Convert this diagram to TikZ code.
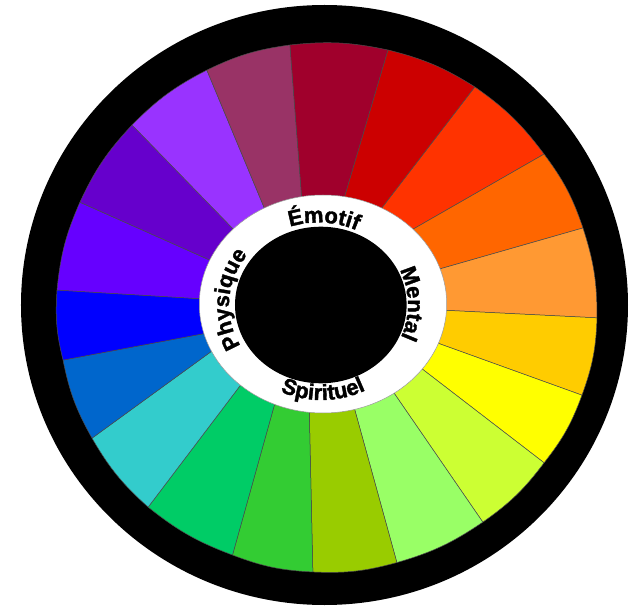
\documentclass[tikz,border=0pt]{standalone}
\usepackage{xcolor}
\usepackage{fontspec}
\newfontfamily\wheelfont{Liberation Sans}[UprightFont=* Bold, FakeBold=1.6]
\usetikzlibrary{calc,decorations.text}

\definecolor{crimson}{HTML}{A0002C}
\definecolor{wred}{HTML}{CC0000}
\definecolor{orangered}{HTML}{FF3300}
\definecolor{worange}{HTML}{FF6600}
\definecolor{lightorange}{HTML}{FF9933}
\definecolor{gold}{HTML}{FFCC00}
\definecolor{wyellow}{HTML}{FFFF00}
\definecolor{yellowgreen}{HTML}{CCFF33}
\definecolor{lightgreen}{HTML}{99FF66}
\definecolor{wolive}{HTML}{99CC00}
\definecolor{wgreen}{HTML}{33CC33}
\definecolor{emerald}{HTML}{00CC66}
\definecolor{wteal}{HTML}{33CCCC}
\definecolor{midblue}{HTML}{0066CC}
\definecolor{wblue}{HTML}{0000FF}
\definecolor{wviolet}{HTML}{6600FF}
\definecolor{darkviolet}{HTML}{6600CC}
\definecolor{wpurple}{HTML}{9933FF}
\definecolor{mauve}{HTML}{993366}

\newcommand\wheeltext{\wheelfont\fontsize{22}{22}\selectfont}

\begin{document}
\begin{tikzpicture}[
    x=1pt,
    y=1pt,
    wedge/.style={
        draw=black!70,
        line width=0.5pt,
        line join=round
    },
    ringtext/.style={
        decorate,
        decoration={
            text along path,
            text align=center,
            text={|\wheeltext|#1}
        }
    }
]
    \useasboundingbox (-324.5,-303) rectangle (305.5,305);
    \coordinate (c) at (0,0);
    \coordinate (tc) at (-6,0);
    \coordinate (sc) at (-3,0);

    % Outer black ring
    \fill[black] (c) ellipse [x radius=303.5, y radius=300];

    % Divider ends: outer angle/radius, inner angle/radius
    \foreach \n/\aout/\rout/\ain/\rin in {
        1/97.6/262.3/101.8/113.5,
        2/76.0/262.8/79.3/113.1,
        3/55.4/264.9/59.2/115.8,
        4/34.5/266.4/40.5/117.4,
        5/16.6/269.7/17.4/118.8,
        6/-2.7/272.8/-2.5/119.6,
        7/-19.3/272.8/-18.6/119.7,
        8/-35.7/270.4/-33.3/118.9,
        9/-53.9/268.7/-51.8/115.2,
        10/-74.3/267.5/-73.9/112.4,
        11/-92.5/267.2/-97.7/112.8,
        12/-110.2/266.4/-116.2/116.1,
        13/-131.1/268.2/-135.9/121.8,
        14/-150.2/267.9/-157.1/127.7,
        15/-168.1/267.2/-166.7/127,
        16/176.8/267.9/177.1/125.8,
        17/157.2/265.3/158.5/128.5,
        18/136.9/263.5/140.2/119.1,
        19/116.6/262.7/121.6/116.9}{
        \coordinate (o\n) at (\aout:\rout);
        \coordinate (i\n) at ($(o\n)!1.12!(\ain:\rin)$);
    }

    % Colour wedges
    \foreach \n/\col in {1/crimson, 2/wred, 3/orangered, 4/worange,
        5/lightorange, 6/gold, 7/wyellow, 8/yellowgreen, 9/lightgreen,
        10/wolive, 11/wgreen, 12/emerald, 13/wteal, 14/midblue,
        15/wblue, 16/wviolet, 17/darkviolet, 18/wpurple, 19/mauve}{
        \pgfmathtruncatemacro\m{mod(\n,19)+1}
        \filldraw[wedge, fill=\col] (o\n) to[bend left=9] (o\m) -- (i\m) -- (i\n) -- cycle;
    }

    % White ring and black centre
    \filldraw[fill=white, draw=black!40, line width=0.5pt]
        (-1.5,1) ellipse [x radius=123.7, y radius=109];
    \fill[black] (-3.7,0) ellipse [x radius=85.8, y radius=78.3];

    % Labels round the ring
    \path[ringtext=Émotif] ([shift={(130:89.5 and 82.5)}]tc)
        arc [start angle=130, end angle=43, x radius=89.5, y radius=82.5];
    \path[ringtext=Mental] ([shift={(45:89.5 and 82.5)}]tc)
        arc [start angle=45, end angle=-43, x radius=89.5, y radius=82.5];
    \path[ringtext=Physique] ([shift={(220:89.5 and 82.5)}]tc)
        arc [start angle=220, end angle=132, x radius=89.5, y radius=82.5];
    \path[ringtext=Spirituel] ([shift={(225:100 and 95)}]sc)
        arc [start angle=225, end angle=317, x radius=100, y radius=95];
\end{tikzpicture}
\end{document}
